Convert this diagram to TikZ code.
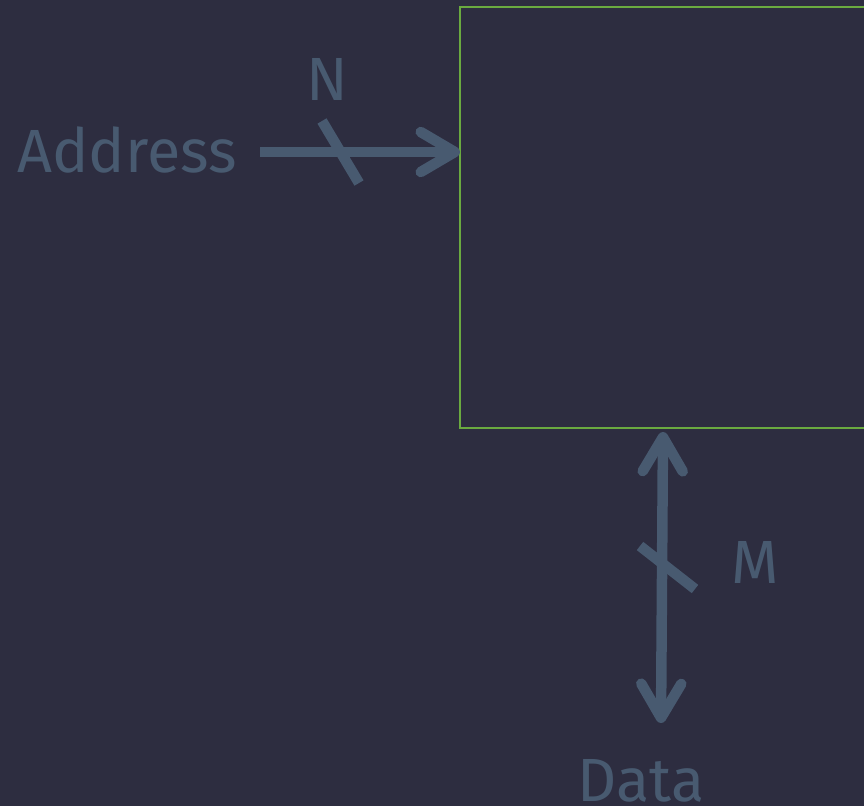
\documentclass[tikz,border=0pt]{standalone}
\usepackage{fontspec}
\setmainfont{Fira Sans}
\usetikzlibrary{arrows.meta}
\definecolor{bgc}{HTML}{2D2D40}
\definecolor{fgc}{HTML}{485A70}
\definecolor{grn}{HTML}{6AAA40}
\tikzset{
  lbl/.style={text=fgc, font=\fontsize{61}{61}\selectfont, inner sep=0pt, anchor=base},
  bus/.style={draw=fgc, line width=10.5pt},
  >={Straight Barb[length=34pt, width=40pt, round]},
}
\begin{document}
\begin{tikzpicture}[x=1pt,y=-1pt]
\useasboundingbox (0,0) rectangle (864,806);
\fill[bgc] (0,0) rectangle (864,806);
\clip (0,0) rectangle (864,806);
\node[draw=grn, line width=2.5pt, minimum width=440pt, minimum height=421pt, inner sep=0pt] (mem) at (680,217.5) {};
\node[lbl] (addr) at (127,172) {Address};
\node[lbl] (n) at (327,100) {N};
\node[lbl] (m) at (755,583) {M};
\node[lbl] (data) at (641,801) {Data};
\coordinate (a0) at (260,152);
\coordinate (a1) at (460,152);
\coordinate (d0) at (663,432);
\coordinate (d1) at (661,723);
\coordinate (s1a) at (322,121);
\coordinate (s1b) at (359,183);
\coordinate (s2a) at (640,546);
\coordinate (s2b) at (695,589);
\draw[bus, ->] (a0) -- (a1);
\draw[bus, <->] (d0) -- (d1);
\draw[bus] (s1a) -- (s1b);
\draw[bus] (s2a) -- (s2b);
\end{tikzpicture}
\end{document}
